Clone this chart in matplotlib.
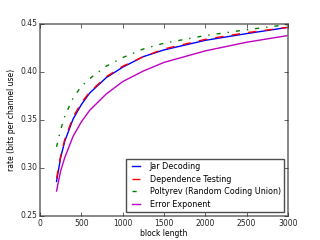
import matplotlib
matplotlib.use("Agg")
import matplotlib.pyplot as plt

n = [200, 250, 300, 400, 500, 600, 800, 1000, 1250, 1500, 2000, 2500, 3000]

jar = [0.286, 0.311, 0.328, 0.351, 0.366, 0.378, 0.394, 0.405, 0.416, 0.423,
       0.433, 0.440, 0.4465]
dep = [0.289, 0.313, 0.330, 0.353, 0.368, 0.379, 0.395, 0.406, 0.416, 0.424,
       0.434, 0.441, 0.4465]
poly = [0.322, 0.340, 0.354, 0.373, 0.385, 0.393, 0.406, 0.415, 0.424, 0.430,
        0.438, 0.444, 0.4495]
errexp = [0.276, 0.297, 0.311, 0.333, 0.348, 0.360, 0.377, 0.390, 0.401, 0.410,
          0.422, 0.431, 0.438]

labels = ["Jar Decoding", "Dependence Testing",
          "Poltyrev (Random Coding Union)", "Error Exponent"]

plt.style.use("classic")
plt.rcParams["font.size"] = 5.5

fig = plt.figure(figsize=(3.2, 2.4), dpi=100)
ax = fig.add_axes([0.125, 0.1, 0.775, 0.8])
ax.plot(n, jar, "b-", lw=1, label=labels[0])
ax.plot(n, dep, "r--", lw=1, label=labels[1])
ax.plot(n, poly, "g-.", lw=1, label=labels[2])
ax.plot(n, errexp, "m-", lw=1, label=labels[3])
ax.set_xlim(0, 3000)
ax.set_ylim(0.25, 0.45)
ax.set_xticks([0, 500, 1000, 1500, 2000, 2500, 3000])
ax.set_yticks([0.25, 0.30, 0.35, 0.40, 0.45])
ax.tick_params(labelsize=5.5, length=3, pad=2, colors="0.15")
for s in ax.spines.values():
    s.set_color("0.45")
    s.set_linewidth(1.2)
ax.set_xlabel("block length", fontsize=5.5, labelpad=1)
ax.set_ylabel("rate (bits per channel use)", fontsize=5.5, labelpad=3)
leg = ax.legend(loc="lower right", fontsize=5.8, handlelength=1.6,
                handletextpad=0.9, labelspacing=0.45, borderaxespad=0.5)
leg.get_frame().set_edgecolor("0.3")
fig.savefig("out.png", dpi=100)
